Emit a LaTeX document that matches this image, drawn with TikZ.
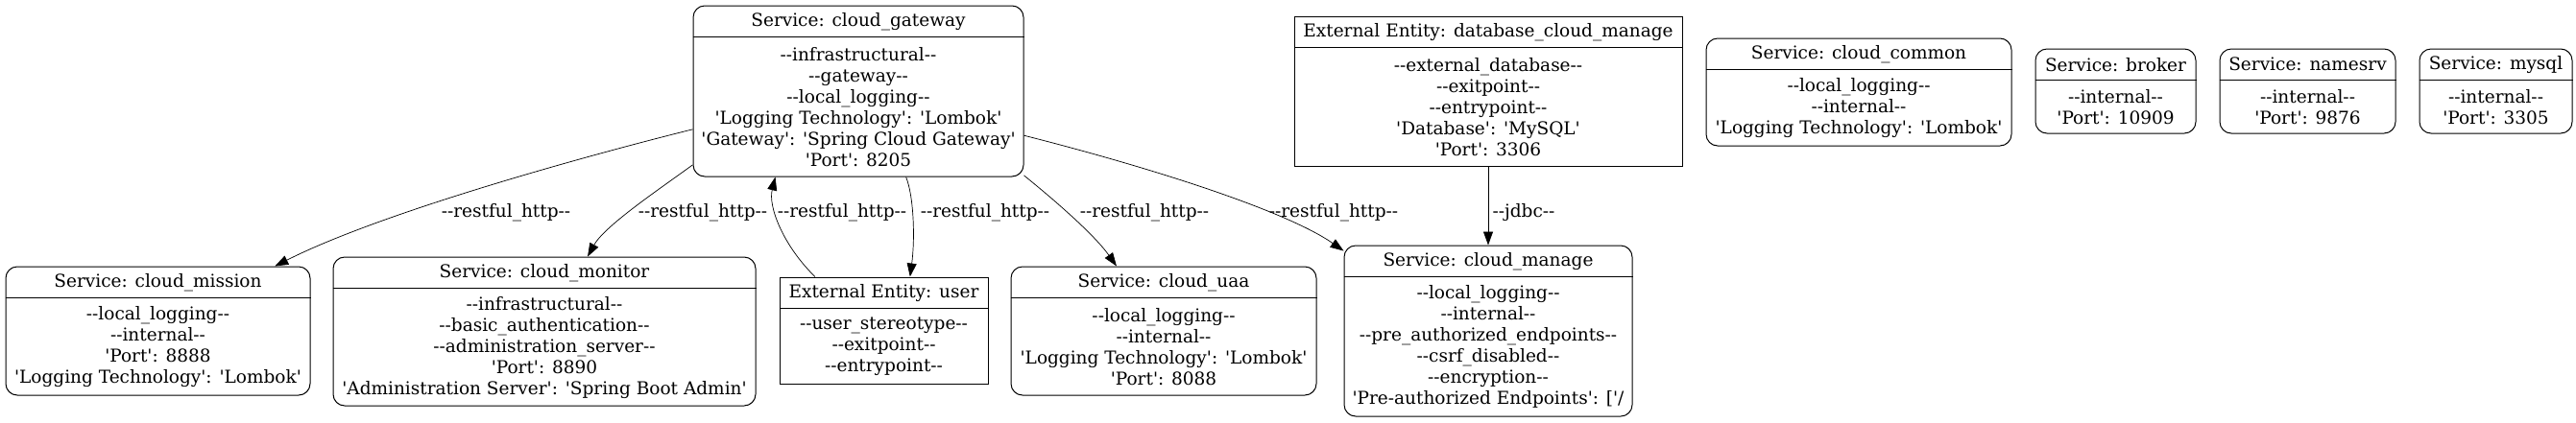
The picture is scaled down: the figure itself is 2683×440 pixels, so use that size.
\documentclass[tikz,border=0pt]{standalone}
\usepackage{fontspec}
\setmainfont{DejaVu Serif}[Ligatures=TeXOff]
\usetikzlibrary{arrows.meta,calc}

\tikzset{
    service/.style={draw, rounded corners=12pt, line width=1pt},
    entity/.style={draw, line width=1pt},
    head/.style={anchor=north, minimum height=33pt, inner sep=0pt},
    body/.style={align=center, inner sep=0pt},
    flow/.style={-{Triangle[length=14pt,width=10pt]}, line width=0.7pt},
    flowlabel/.style={inner sep=1pt}
}

\begin{document}
\begin{tikzpicture}[x=1pt, y=-1pt, every node/.append style={font=\fontsize{18.5}{22}\selectfont}]
    \useasboundingbox (0,0) rectangle (2683,440);

    % top row
    \node[service, minimum width=344pt, minimum height=178pt] (gateway) at (894,95) {};
    \node[head] (gateway-h) at (gateway.north) {Service: cloud\_gateway};
    \draw[line width=1pt] (gateway.west |- gateway-h.south) -- (gateway.east |- gateway-h.south);
    \node[body] (gateway-b) at ($(gateway-h.south)!0.5!(gateway.south)$) {--infrastructural--\\--gateway--\\--local\_logging--\\'Logging Technology': 'Lombok'\\'Gateway': 'Spring Cloud Gateway'\\'Port': 8205};

    \node[entity, minimum width=404pt, minimum height=156pt] (database) at (1550,95) {};
    \node[head] (database-h) at (database.north) {External Entity: database\_cloud\_manage};
    \draw[line width=1pt] (database.west |- database-h.south) -- (database.east |- database-h.south);
    \node[body] (database-b) at ($(database-h.south)!0.5!(database.south)$) {--external\_database--\\--exitpoint--\\--entrypoint--\\'Database': 'MySQL'\\'Port': 3306};

    \node[service, minimum width=318pt, minimum height=112pt] (common) at (1936,96) {};
    \node[head] (common-h) at (common.north) {Service: cloud\_common};
    \draw[line width=1pt] (common.west |- common-h.south) -- (common.east |- common-h.south);
    \node[body] (common-b) at ($(common-h.south)!0.5!(common.south)$) {--local\_logging--\\--internal--\\'Logging Technology': 'Lombok'};

    \node[service, minimum width=167pt, minimum height=88pt] (broker) at (2203.5,95) {};
    \node[head] (broker-h) at (broker.north) {Service: broker};
    \draw[line width=1pt] (broker.west |- broker-h.south) -- (broker.east |- broker-h.south);
    \node[body] (broker-b) at ($(broker-h.south)!0.5!(broker.south)$) {--internal--\\'Port': 10909};

    \node[service, minimum width=183pt, minimum height=88pt] (namesrv) at (2403.5,95) {};
    \node[head] (namesrv-h) at (namesrv.north) {Service: namesrv};
    \draw[line width=1pt] (namesrv.west |- namesrv-h.south) -- (namesrv.east |- namesrv-h.south);
    \node[body] (namesrv-b) at ($(namesrv-h.south)!0.5!(namesrv.south)$) {--internal--\\'Port': 9876};

    \node[service, minimum width=159pt, minimum height=88pt] (mysql) at (2599.5,95) {};
    \node[head] (mysql-h) at (mysql.north) {Service: mysql};
    \draw[line width=1pt] (mysql.west |- mysql-h.south) -- (mysql.east |- mysql-h.south);
    \node[body] (mysql-b) at ($(mysql-h.south)!0.5!(mysql.south)$) {--internal--\\'Port': 3305};

    % bottom row
    \node[service, minimum width=317pt, minimum height=134pt] (mission) at (164.5,345) {};
    \node[head] (mission-h) at (mission.north) {Service: cloud\_mission};
    \draw[line width=1pt] (mission.west |- mission-h.south) -- (mission.east |- mission-h.south);
    \node[body] (mission-b) at ($(mission-h.south)!0.5!(mission.south)$) {--local\_logging--\\--internal--\\'Port': 8888\\'Logging Technology': 'Lombok'};

    \node[service, minimum width=440pt, minimum height=155pt] (monitor) at (567,345.5) {};
    \node[head] (monitor-h) at (monitor.north) {Service: cloud\_monitor};
    \draw[line width=1pt] (monitor.west |- monitor-h.south) -- (monitor.east |- monitor-h.south);
    \node[body] (monitor-b) at ($(monitor-h.south)!0.5!(monitor.south)$) {--infrastructural--\\--basic\_authentication--\\--administration\_server--\\'Port': 8890\\'Administration Server': 'Spring Boot Admin'};

    \node[entity, minimum width=217pt, minimum height=111pt] (user) at (920.5,344.5) {};
    \node[head] (user-h) at (user.north) {External Entity: user};
    \draw[line width=1pt] (user.west |- user-h.south) -- (user.east |- user-h.south);
    \node[body] (user-b) at ($(user-h.south)!0.5!(user.south)$) {--user\_stereotype--\\--exitpoint--\\--entrypoint--};

    \node[service, minimum width=318pt, minimum height=134pt] (uaa) at (1212,345) {};
    \node[head] (uaa-h) at (uaa.north) {Service: cloud\_uaa};
    \draw[line width=1pt] (uaa.west |- uaa-h.south) -- (uaa.east |- uaa-h.south);
    \node[body] (uaa-b) at ($(uaa-h.south)!0.5!(uaa.south)$) {--local\_logging--\\--internal--\\'Logging Technology': 'Lombok'\\'Port': 8088};

    \node[service, minimum width=300pt, minimum height=178pt] (manage) at (1550,345) {};
    \node[head] (manage-h) at (manage.north) {Service: cloud\_manage};
    \draw[line width=1pt] (manage.west |- manage-h.south) -- (manage.east |- manage-h.south);
    \node[body] (manage-b) at ($(manage-h.south)!0.5!(manage.south)$) {--local\_logging--\\--internal--\\--pre\_authorized\_endpoints--\\--csrf\_disabled--\\--encryption--\\'Pre-authorized Endpoints': ['/};

    % flows
    \draw[flow] (gateway.193) .. controls (620,160) and (400,220) .. (mission.29);
    \draw[flow] (gateway.204) .. controls (690,195) and (630,235) .. (monitor.60);
    \draw[flow] (user.142) .. controls (815,255) and (800,215) .. (gateway.226);
    \draw[flow] (gateway.299) .. controls (952,205) and (953,250) .. (user.64);
    \draw[flow] (gateway.333) .. controls (1100,210) and (1140,245) .. (uaa.126);
    \draw[flow] (gateway.345) .. controls (1200,175) and (1340,220) .. (manage.151);
    \draw[flow] (database) -- (manage);

    \node[flowlabel] (l-mission) at (527,222) {--restful\_http--};
    \node[flowlabel] (l-monitor) at (732,222) {--restful\_http--};
    \node[flowlabel] (l-usergw) at (877,222) {--restful\_http--};
    \node[flowlabel] (l-gwuser) at (1026,222) {--restful\_http--};
    \node[flowlabel] (l-uaa) at (1192,222) {--restful\_http--};
    \node[flowlabel] (l-manage) at (1389,222) {--restful\_http--};
    \node[flowlabel] (l-jdbc) at (1587,222) {--jdbc--};
\end{tikzpicture}
\end{document}
